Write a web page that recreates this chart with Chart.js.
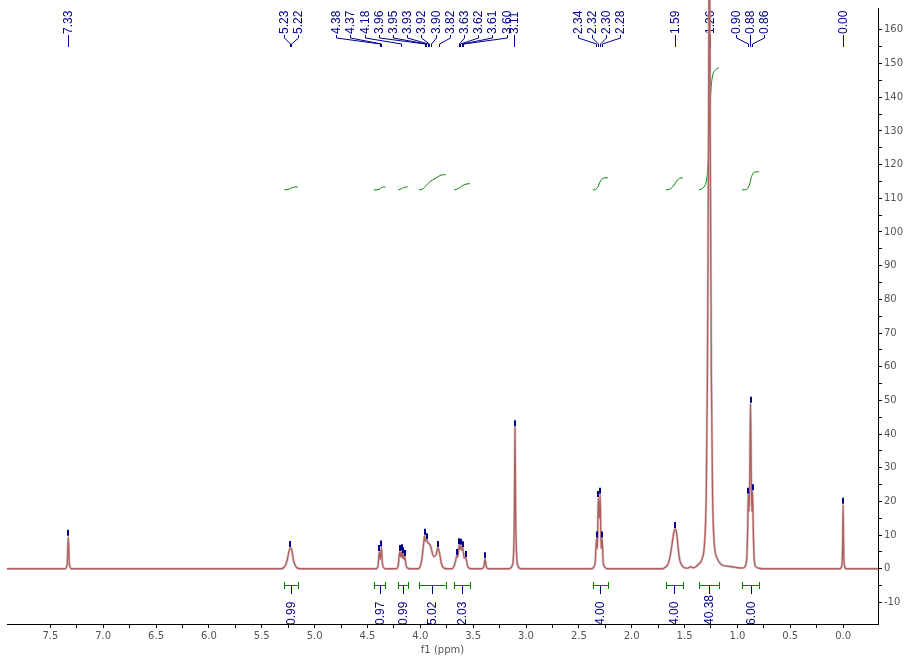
<!DOCTYPE html>
<html>
<head>
<meta charset="utf-8">
<script src="https://cdn.jsdelivr.net/npm/chart.js@4.4.1/dist/chart.umd.min.js"></script>
<style>
  html, body { margin: 0; padding: 0; background: #fff; }
  #wrap { width: 918px; height: 658px; }
</style>
</head>
<body>
<div id="wrap"><canvas id="nmr"></canvas></div>
<script>
// 1H trace: chemical shift (ppm) and intensity
const shiftPpm = [
  7.95,
  7.36, 7.34, 7.33, 7.32, 7.30,
  5.32, 5.28, 5.26, 5.24, 5.228, 5.215, 5.20, 5.18, 5.14,
  4.42, 4.40, 4.388, 4.378, 4.368, 4.358, 4.345, 4.33,
  4.23, 4.21, 4.195, 4.185, 4.176, 4.168, 4.16, 4.153, 4.145, 4.135, 4.12, 4.10,
  4.02, 4.00, 3.985, 3.97, 3.96, 3.953, 3.94, 3.925, 3.915, 3.90, 3.885, 3.87, 3.85, 3.835, 3.82, 3.80, 3.78, 3.75,
  3.70, 3.68, 3.665, 3.655, 3.645, 3.632, 3.625, 3.617, 3.607, 3.598, 3.585, 3.568, 3.555, 3.54, 3.52,
  3.42, 3.40, 3.387, 3.375, 3.36,
  3.16, 3.13, 3.117, 3.11, 3.104, 3.098, 3.09, 3.078, 3.05,
  2.38, 2.36, 2.345, 2.333, 2.325, 2.316, 2.307, 2.298, 2.29, 2.28, 2.27, 2.255, 2.23,
  1.71, 1.68, 1.655, 1.635, 1.615, 1.60, 1.588, 1.575, 1.56, 1.545, 1.52, 1.49,
  1.47, 1.44, 1.42, 1.39, 1.364, 1.34, 1.31, 1.295, 1.284, 1.274, 1.265, 1.256, 1.246, 1.235, 1.22, 1.19, 1.15, 1.10, 1.05, 1.00,
  0.95, 0.925, 0.91, 0.903, 0.897, 0.89, 0.883, 0.876, 0.869, 0.863, 0.857, 0.85, 0.843, 0.83, 0.80, 0.75,
  0.03, 0.012, 0.005, 0.0, -0.005, -0.012, -0.03, -0.33
]
const intensity = [
  0,
  0, 1.5, 9.5, 1.5, 0,
  0, 0.8, 2.5, 5.5, 6.2, 5.5, 2.5, 0.8, 0,
  0, 0.8, 5, 2.8, 6.3, 1.5, 0.3, 0,
  0, 0.8, 5, 3.5, 5.2, 3.2, 4.3, 2.8, 3.5, 1, 0.2, 0,
  0, 0.8, 3, 7, 9.8, 8.2, 8.5, 7.6, 7.4, 6.5, 4.5, 3.6, 4.2, 6.2, 5, 1.5, 0.3, 0,
  0, 0.8, 2.5, 3.8, 3.5, 7, 5.8, 6.8, 5.5, 6.1, 3.2, 3.2, 1, 0.2, 0,
  0, 0.6, 2.8, 0.6, 0,
  0, 1, 5, 16, 42, 16, 5, 1, 0,
  0, 0.5, 2, 9, 6, 21, 15, 22, 6, 9, 2, 0.5, 0,
  0, 0.5, 1.5, 4, 8, 11, 11.8, 10.5, 6, 2.5, 0.8, 0.2,
  0.2, 0.6, 0.3, 0.7, 1.5, 2.5, 8, 22, 56, 120, 195, 120, 56, 22, 8, 3, 1.2, 0.8, 0.6, 0.3,
  0.2, 0.8, 4, 12, 22, 17, 28, 49, 28, 17, 23, 12, 4, 0.8, 0.2, 0,
  0, 1, 6, 19, 6, 1, 0, 0
]

// peak-pick labels, grouped the way they are fanned out at the top
const peakLabelGroups = [
  ["7.33"],
  ["5.23", "5.22"],
  ["4.38", "4.37", "4.18", "3.96", "3.95", "3.93", "3.92", "3.90", "3.82", "3.63", "3.62", "3.61", "3.60"],
  ["3.11"],
  ["2.34", "2.32", "2.30", "2.28"],
  ["1.59"],
  ["1.26"],
  ["0.90", "0.88", "0.86"],
  ["0.00"]
]

// integral regions (ppm) and their values
const integralFrom = [5.285, 4.44, 4.21, 4.015, 3.68, 2.37, 1.676, 1.364, 0.956]
const integralTo = [5.16, 4.33, 4.12, 3.76, 3.53, 2.225, 1.515, 1.174, 0.795]
const integralValues = ["0.99", "0.97", "0.99", "5.02", "2.03", "4.00", "4.00", "40.38", "6.00"]

const integralBase = 112.5   // where the integral curves start on the intensity scale
const integralGain = 0.897   // intensity units per integral unit

const NAVY = '#00008b'
const GREEN = '#008000'
const LABEL_FONT = '12px "Liberation Sans", Arial, sans-serif'

const spectrum = shiftPpm.map((x, i) => ({ x, y: intensity[i] }))

// cumulative integral of the trace inside each region
const integralCurves = integralFrom.map((hi, k) => {
  const lo = integralTo[k]
  const pts = spectrum.filter(p => p.x <= hi && p.x >= lo)
  const out = [{ x: hi, y: 0 }]
  let sum = 0
  let prev = { x: hi, y: 0 }
  pts.forEach(p => {
    sum += (prev.x - p.x) * (prev.y + p.y) / 2
    out.push({ x: p.x, y: sum })
    prev = p
  })
  sum += (prev.x - lo) * prev.y / 2
  out.push({ x: lo, y: sum })
  const rise = parseFloat(integralValues[k]) * integralGain
  return out.map(p => ({ x: p.x, y: integralBase + (sum ? p.y / sum : 0) * rise }))
})

const annotate = {
  id: 'annotate',
  beforeDraw(chart) {
    const { ctx } = chart
    const x = chart.scales.x
    ctx.save()
    ctx.font = LABEL_FONT
    integralFrom.forEach((hi, k) => {
      const x1 = x.getPixelForValue(hi)
      const x2 = x.getPixelForValue(integralTo[k])
      const cx = Math.round((x1 + x2) / 2) + 0.5
      ctx.strokeStyle = GREEN
      ctx.lineWidth = 1
      ctx.beginPath()
      ctx.moveTo(x1, 585.5); ctx.lineTo(x2, 585.5)
      ctx.moveTo(Math.round(x1) + 0.5, 582); ctx.lineTo(Math.round(x1) + 0.5, 589)
      ctx.moveTo(Math.round(x2) + 0.5, 582); ctx.lineTo(Math.round(x2) + 0.5, 589)
      ctx.stroke()
      ctx.strokeStyle = NAVY
      ctx.beginPath()
      ctx.moveTo(cx, 586); ctx.lineTo(cx, 594)
      ctx.stroke()
      ctx.save()
      ctx.translate(cx, 625)
      ctx.rotate(-Math.PI / 2)
      ctx.fillStyle = NAVY
      ctx.textAlign = 'left'
      ctx.textBaseline = 'middle'
      ctx.fillText(integralValues[k], 0, 0)
      ctx.restore()
    })
    ctx.restore()
  },
  beforeDatasetsDraw(chart) {
    const { ctx } = chart
    const x = chart.scales.x
    ctx.save()
    ctx.font = LABEL_FONT
    ctx.fillStyle = NAVY
    ctx.strokeStyle = NAVY
    ctx.lineWidth = 1
    peakLabelGroups.forEach(group => {
      const px = group.map(l => x.getPixelForValue(parseFloat(l)))
      const center = (Math.min(...px) + Math.max(...px)) / 2
      group.forEach((label, i) => {
        const lx = Math.round(center + (i - (group.length - 1) / 2) * 14.2) + 0.5
        ctx.save()
        ctx.translate(lx, 34)
        ctx.rotate(-Math.PI / 2)
        ctx.textAlign = 'left'
        ctx.textBaseline = 'middle'
        ctx.fillText(label, 0, 0)
        ctx.restore()
        ctx.beginPath()
        if (group.length === 1) {
          ctx.moveTo(lx, 35); ctx.lineTo(lx, 47)
        } else {
          const p = Math.round(px[i]) + 0.5
          ctx.moveTo(lx, 35); ctx.lineTo(lx, 38); ctx.lineTo(p, 44); ctx.lineTo(p, 47)
        }
        ctx.stroke()
      })
    })
    ctx.restore()
  },
  afterDatasetsDraw(chart) {
    const { ctx } = chart
    const x = chart.scales.x
    const y = chart.scales.y
    ctx.save()
    ctx.strokeStyle = NAVY
    ctx.lineWidth = 2
    // small ticks on every picked maximum
    for (let i = 1; i < spectrum.length - 1; i++) {
      const p = spectrum[i]
      if (p.y > 2 && p.y >= spectrum[i - 1].y && p.y >= spectrum[i + 1].y && p.y < y.max) {
        const px = Math.round(x.getPixelForValue(p.x))
        const py = y.getPixelForValue(p.y)
        ctx.beginPath()
        ctx.moveTo(px, py - 1); ctx.lineTo(px, py - 7)
        ctx.stroke()
      }
    }
    ctx.restore()
  }
}

const onStep = (v, step) => Math.abs(v / step - Math.round(v / step)) < 1e-6

new Chart(document.getElementById('nmr'), {
  type: 'line',
  data: {
    datasets: [
      {
        data: spectrum,
        borderColor: 'rgba(200, 160, 160, 0.6)',
        borderWidth: 2.5,
        pointRadius: 0,
        cubicInterpolationMode: 'monotone',
        clip: { left: 0, top: 8, right: 0, bottom: 0 }
      },
      {
        data: spectrum,
        borderColor: '#8b0000',
        borderWidth: 1.3,
        pointRadius: 0,
        cubicInterpolationMode: 'monotone',
        clip: { left: 0, top: 8, right: 0, bottom: 0 }
      },
      ...integralCurves.map(curve => ({
        data: curve,
        borderColor: GREEN,
        borderWidth: 1,
        pointRadius: 0,
        cubicInterpolationMode: 'monotone'
      }))
    ]
  },
  options: {
    responsive: true,
    maintainAspectRatio: false,
    animation: false,
    layout: { padding: { left: 7, top: 8, right: 0, bottom: 0 } },
    plugins: { legend: { display: false }, tooltip: { enabled: false } },
    scales: {
      x: {
        type: 'linear',
        reverse: true,
        min: -0.33,
        max: 7.91,
        border: { display: true, color: '#000', width: 1 },
        grid: { drawOnChartArea: false, drawTicks: true, tickLength: 4, color: '#000' },
        ticks: {
          stepSize: 0.25,
          padding: 2,
          maxRotation: 0,
          autoSkip: false,
          color: '#555',
          font: { size: 10, family: '"DejaVu Sans", sans-serif' },
          callback: v => onStep(v, 0.5) ? v.toFixed(1) : ''
        },
        afterBuildTicks: scale => { scale.ticks = scale.ticks.filter(t => onStep(t.value, 0.25)) },
        title: {
          display: true,
          text: 'f1 (ppm)',
          color: '#555',
          font: { size: 10, family: '"DejaVu Sans", sans-serif' },
          padding: { top: 0, bottom: 2 }
        },
        afterFit: scale => { scale.height = 34 }
      },
      y: {
        type: 'linear',
        position: 'right',
        min: -16.4,
        max: 166.5,
        border: { display: true, color: '#000', width: 1 },
        grid: { drawOnChartArea: false, drawTicks: true, tickLength: 4, color: '#000' },
        ticks: {
          stepSize: 5,
          padding: 2,
          autoSkip: false,
          color: '#555',
          font: { size: 10, family: '"DejaVu Sans", sans-serif' },
          callback: v => onStep(v, 10) ? String(v) : ''
        },
        afterBuildTicks: scale => { scale.ticks = scale.ticks.filter(t => onStep(t.value, 5)) },
        afterFit: scale => { scale.width = 40 }
      }
    }
  },
  plugins: [annotate]
})
</script>
</body>
</html>
